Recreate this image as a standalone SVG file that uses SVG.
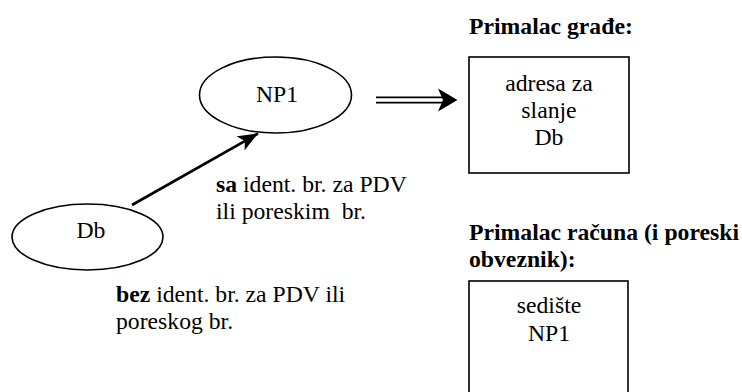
<svg xmlns="http://www.w3.org/2000/svg" width="742" height="392" viewBox="0 0 742 392">
<defs>
<style>
text{font-family:"Liberation Serif","DejaVu Serif","Times New Roman",serif;font-size:23.7px;fill:#000}
.b{font-weight:bold}
.c{text-anchor:middle}
.shape{fill:#fff;stroke:#000;stroke-width:1.6}
.conn{fill:none;stroke:#000}
</style>
<marker id="ah" markerUnits="userSpaceOnUse" markerWidth="22" markerHeight="16" viewBox="0 0 22 16" refX="20" refY="8" orient="auto">
<path d="M0,0 L20,8 L0,16 L5,8 Z" fill="#000"/>
</marker>
</defs>
<rect width="742" height="392" fill="#fff"/>
<g id="node-np1">
<ellipse class="shape" cx="275.5" cy="95" rx="76" ry="38"/>
<text class="c" x="277" y="102" font-family="Liberation Serif, serif">NP1</text>
</g>
<g id="node-db">
<ellipse class="shape" cx="87.5" cy="237" rx="75.5" ry="33"/>
<text class="c" x="91" y="238" font-family="Liberation Serif, serif">Db</text>
</g>
<g id="node-primalac-grade">
<text class="b" x="469" y="34" font-family="Liberation Serif, serif">Primalac građe:</text>
<rect class="shape" x="469" y="57" width="160" height="116"/>
<text class="c" x="549" y="91" font-family="Liberation Serif, serif">adresa za</text>
<text class="c" x="549" y="118" font-family="Liberation Serif, serif">slanje</text>
<text class="c" x="549" y="145" font-family="Liberation Serif, serif">Db</text>
</g>
<g id="node-primalac-racuna">
<text class="b" x="469" y="240" font-family="Liberation Serif, serif">Primalac računa (i poreski</text>
<text class="b" x="469" y="267" font-family="Liberation Serif, serif">obveznik):</text>
<rect class="shape" x="469" y="281" width="159" height="130"/>
<text class="c" x="549" y="313" font-family="Liberation Serif, serif">sedište</text>
<text class="c" x="549" y="341" font-family="Liberation Serif, serif">NP1</text>
</g>
<g id="connectors">
<line class="conn" x1="132" y1="205" x2="258" y2="133.5" stroke-width="2.6" marker-end="url(#ah)"/>
<g id="double-arrow">
<line class="conn" x1="376" y1="97.3" x2="443" y2="97.3" stroke-width="1.8"/>
<line class="conn" x1="376" y1="102.7" x2="443" y2="102.7" stroke-width="1.8"/>
<path d="M457.5,100 L438,88.5 L443,100 L438,111.5 Z" fill="#000"/>
</g>
</g>
<g id="labels">
<text x="216" y="192" font-family="Liberation Serif, serif"><tspan class="b">sa</tspan> ident. br. za PDV</text>
<text x="216" y="219" font-family="Liberation Serif, serif">ili poreskim&#160; br.</text>
<text x="116" y="302" font-family="Liberation Serif, serif"><tspan class="b">bez</tspan> ident. br. za PDV ili</text>
<text x="116" y="329" font-family="Liberation Serif, serif">poreskog br.</text>
</g>
</svg>
